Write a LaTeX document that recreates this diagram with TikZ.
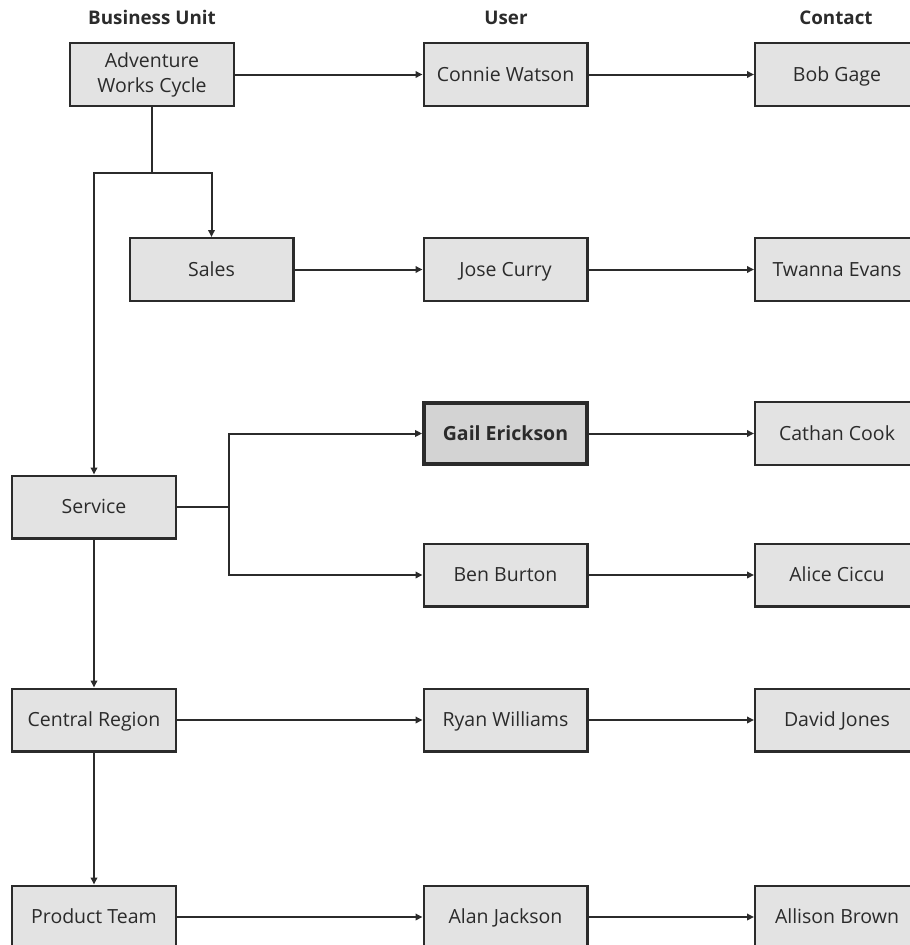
\documentclass[tikz,border=0pt]{standalone}
\usepackage{fontspec}
\setmainfont{Open Sans}
\usetikzlibrary{arrows.meta}
\definecolor{boxfill}{HTML}{E3E3E3}
\definecolor{selfill}{HTML}{D3D3D3}
\definecolor{ink}{HTML}{2B2B2B}

\begin{document}
\begin{tikzpicture}[x=1pt,y=-1pt,
    boxbase/.style={draw=ink,fill=boxfill,line width=2.2pt,minimum width=163.8pt,minimum height=62.8pt,
      inner sep=0pt,align=center,text=ink,font=\fontsize{19.5}{25}\selectfont},
    box/.style={boxbase,text height=13.9pt,text depth=0pt},
    selbox/.style={box,fill=selfill,line width=3.8pt,minimum width=163pt,minimum height=61pt,
      font=\fontsize{19.5}{25}\selectfont\bfseries},
    head/.style={text=ink,text height=13.4pt,text depth=0pt,inner sep=0pt,
      font=\fontsize{18.8}{22}\selectfont\bfseries},
    ln/.style={draw=ink,line width=2pt},
    arr/.style={ln,-{Triangle[length=7pt,width=6.5pt]}}]
      \useasboundingbox (0,0) rectangle (910,945);
      \clip (0,0) rectangle (910,945);

      % column heads
      \node[head] (hbu) at (152,18) {Business Unit};
      \node[head] (huser) at (506,18) {User};
      \node[head] (hcontact) at (836,18) {Contact};

      % business units
      \node[boxbase] (adv) at (152,74.5) {Adventure\\Works Cycle};
      \node[box] (sales) at (211.5,269.5) {Sales};
      \node[box] (service) at (94,507) {Service};
      \node[box] (central) at (94,720) {Central Region};
      \node[box] (product) at (94,917) {Product Team};

      % users
      \node[box] (connie) at (505.5,74.5) {Connie Watson};
      \node[box] (jose) at (505.5,269.5) {Jose Curry};
      \node[selbox] (gail) at (505.5,433.5) {Gail Erickson};
      \node[box] (ben) at (505.5,575) {Ben Burton};
      \node[box] (ryan) at (505.5,720) {Ryan Williams};
      \node[box] (alan) at (505.5,917) {Alan Jackson};

      % contacts
      \node[box] (bob) at (837,74.5) {Bob Gage};
      \node[box] (twanna) at (837,269.5) {Twanna Evans};
      \node[box] (cathan) at (837,433.5) {Cathan Cook};
      \node[box] (alice) at (837,575) {Alice Ciccu};
      \node[box] (david) at (837,720) {David Jones};
      \node[box] (allison) at (837,917) {Allison Brown};

      \foreach\a\b in {adv/connie, connie/bob, sales/jose, jose/twanna, gail/cathan,
                       ben/alice, central/ryan, ryan/david, product/alan, alan/allison}
      {\draw[arr] (\a.east) -- (\b.west);}

      \coordinate (split) at (152,173);
      \draw[ln] (adv.south) -- (split);
      \draw[arr] (split) -| (sales.north);
      \draw[arr] (split) -| (service.north);

      \coordinate (fork) at (229,507);
      \draw[ln] (service.east) -- (fork);
      \draw[arr] (fork) |- (gail.west);
      \draw[arr] (fork) |- (ben.west);

      \draw[arr] (service) -- (central);
      \draw[arr] (central) -- (product);
\end{tikzpicture}
\end{document}
